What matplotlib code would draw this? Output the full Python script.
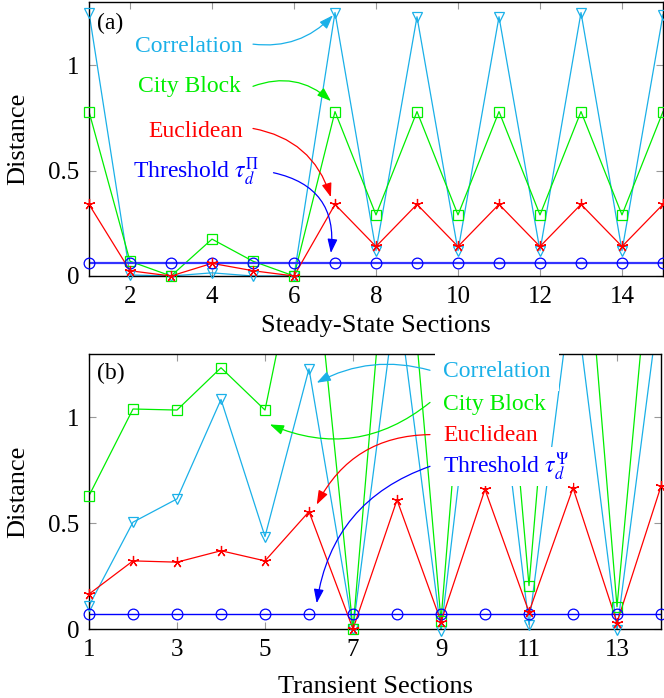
import numpy as np
import matplotlib
matplotlib.use("Agg")
import matplotlib.pyplot as plt

plt.rcParams['font.family'] = ['Liberation Serif', 'DejaVu Serif']
plt.rcParams['mathtext.fontset'] = 'stix'

# ---------------- data ----------------
x_a = [1, 2, 3, 4, 5, 6, 7, 8, 9, 10, 11, 12, 13, 14, 15]
corr_a = [1.25, 0.005, 0.0, 0.015, 0.0, 0.0, 1.25, 0.12, 1.23, 0.12, 1.23, 0.12, 1.25, 0.12, 1.24]
city_a = [0.78, 0.07, 0.0, 0.175, 0.07, 0.0, 0.78, 0.29, 0.78, 0.29, 0.78, 0.29, 0.78, 0.29, 0.78]
eucl_a = [0.34, 0.025, 0.0, 0.06, 0.025, 0.0, 0.34, 0.14, 0.34, 0.14, 0.34, 0.14, 0.34, 0.14, 0.34]
thr_a = [0.06] * 15

x_b = [1, 2, 3, 4, 5, 6, 7, 8, 9, 10, 11, 12, 13, 14]
corr_b = [0.11, 0.505, 0.615, 1.085, 0.437, 1.23, 0.0, 1.6, -0.01, 1.75, 0.02, 1.65, -0.005, 1.6]
city_b = [0.63, 1.04, 1.035, 1.235, 1.035, 2.05, 0.0, 2.45, 0.04, 2.6, 0.205, 2.65, 0.105, 2.35]
eucl_b = [0.165, 0.322, 0.316, 0.37, 0.322, 0.555, 0.0, 0.61, 0.035, 0.66, 0.08, 0.667, 0.03, 0.675]
thr_b = [0.07] * 14

xticks_a = [2, 4, 6, 8, 10, 12, 14]
xticks_b = [1, 3, 5, 7, 9, 11, 13]
yticks = [0, 0.5, 1]
ytick_labels = ['0', '0.5', '1']

CYAN = '#1AB0E8'
GREEN = '#00EE00'
RED = '#FF0000'
BLUE = '#0000FF'

FS_TXT = 17
FS_TICK = 18
FS_LAB = 19

fig = plt.figure(figsize=(6.64, 6.98), dpi=100)
W, H = 664, 698
ax1 = fig.add_axes([89 / W, 1 - 276 / H, (663 - 89) / W, (276 - 2) / H])
ax2 = fig.add_axes([89 / W, 1 - 629 / H, (661 - 89) / W, (629 - 354) / H])

star = (5, 2, 0)
YMAX = 1.3


def draw(ax, x, series):
    for vals, col, mk, ms in series:
        v = np.asarray(vals, dtype=float)
        ax.plot(x, v, color=col, lw=0.9, zorder=2)
        vm = np.where((v <= YMAX + 0.02) & (v >= -0.05), v, np.nan)
        ax.plot(x, vm, ls='none', marker=mk, ms=ms, mfc='none', mec=col,
                mew=0.9, clip_on=False, zorder=3)


for ax, x, c, g, e, t, tlw, tcol in [
        (ax1, x_a, corr_a, city_a, eucl_a, thr_a, 1.6, '#3333FF'),
        (ax2, x_b, corr_b, city_b, eucl_b, thr_b, 1.0, BLUE)]:
    draw(ax, x, [(c, CYAN, 'v', 6.5), (g, GREEN, 's', 7.5)])
    ax.plot(x, t, color=tcol, lw=tlw, zorder=2)
    ax.plot(x, t, ls='none', marker='o', ms=7.7, mfc='none', mec=BLUE, mew=0.9,
            clip_on=False, zorder=3)
    draw(ax, x, [(e, RED, star, 8)])
    ax.set_ylim(0, YMAX)
    ax.set_yticks(yticks)
    ax.set_yticklabels(ytick_labels)
    ax.tick_params(direction='in', length=5, width=0.8, color='#999999',
                   top=True, right=True, labelsize=FS_TICK, pad=7)
    for s in ax.spines.values():
        s.set_linewidth(1.0)
    ax.set_ylabel('Distance', fontsize=FS_LAB)
    ax.yaxis.set_label_coords(-0.105, 0.5)

ax1.set_xlim(1, 15)
ax1.set_xticks(xticks_a)
ax2.set_xlim(1, 14)
ax2.set_xticks(xticks_b)
ax1.set_xlabel('Steady-State Sections', fontsize=FS_LAB, labelpad=5)
ax2.set_xlabel('Transient Sections', fontsize=FS_LAB, labelpad=11)

ax1.text(1.2, 1.17, '(a)', fontsize=FS_TXT, ha='left', va='baseline')
ax2.text(1.18, 1.18, '(b)', fontsize=FS_TXT, ha='left', va='baseline')

ARROW = '-|>,head_length=0.7,head_width=0.25'

# ---- annotations (a) ----
ann_a = [
    ('Correlation', CYAN, 2.12, 1.063, (5.0, 1.10), (6.95, 1.237), 0.25),
    ('City Block', GREEN, 2.195, 0.873, (5.0, 0.90), (6.9, 0.83), -0.3),
    ('Euclidean', RED, 2.44, 0.660, (5.0, 0.70), (6.9, 0.374), -0.3),
    ('Threshold $\\tau_d^{\\Pi}$', BLUE, 2.07, 0.463, (5.5, 0.49), (6.9, 0.109), -0.45),
]
for txt, col, tx, ty, start, end, rad in ann_a:
    ax1.text(tx, ty, txt, color=col, fontsize=FS_TXT, ha='left', va='baseline', zorder=5)
    ax1.annotate('', xy=end, xytext=start,
                 arrowprops=dict(arrowstyle=ARROW, color=col, lw=0.9,
                                 shrinkA=0, shrinkB=0, mutation_scale=12,
                                 connectionstyle='arc3,rad=%s' % rad), zorder=5)

# ---- annotations (b) ----
ann_b = [
    ('Correlation', CYAN, 9.045, 1.189, (8.75, 1.223), (6.175, 1.164), 0.2, 0.35),
    ('City Block', GREEN, 9.045, 1.035, (8.75, 1.071), (5.11, 0.967), -0.3, 0.35),
    ('Euclidean', RED, 9.045, 0.887, (8.75, 0.919), (6.175, 0.588), 0.3, 0.35),
    ('Threshold $\\tau_d^{\\Psi}$', BLUE, 9.045, 0.735, (8.75, 0.769), (6.175, 0.122), 0.3, 0.15),
]
for txt, col, tx, ty, start, end, rad, pad in ann_b:
    ax2.text(tx, ty, txt, color=col, fontsize=FS_TXT, ha='left', va='baseline', zorder=5,
             bbox=dict(boxstyle='square,pad=%s' % pad, facecolor='white', edgecolor='none'))
    ax2.annotate('', xy=end, xytext=start,
                 arrowprops=dict(arrowstyle=ARROW, color=col, lw=0.9,
                                 shrinkA=0, shrinkB=0, mutation_scale=12,
                                 connectionstyle='arc3,rad=%s' % rad), zorder=5)

fig.savefig('out.png', dpi=100)
